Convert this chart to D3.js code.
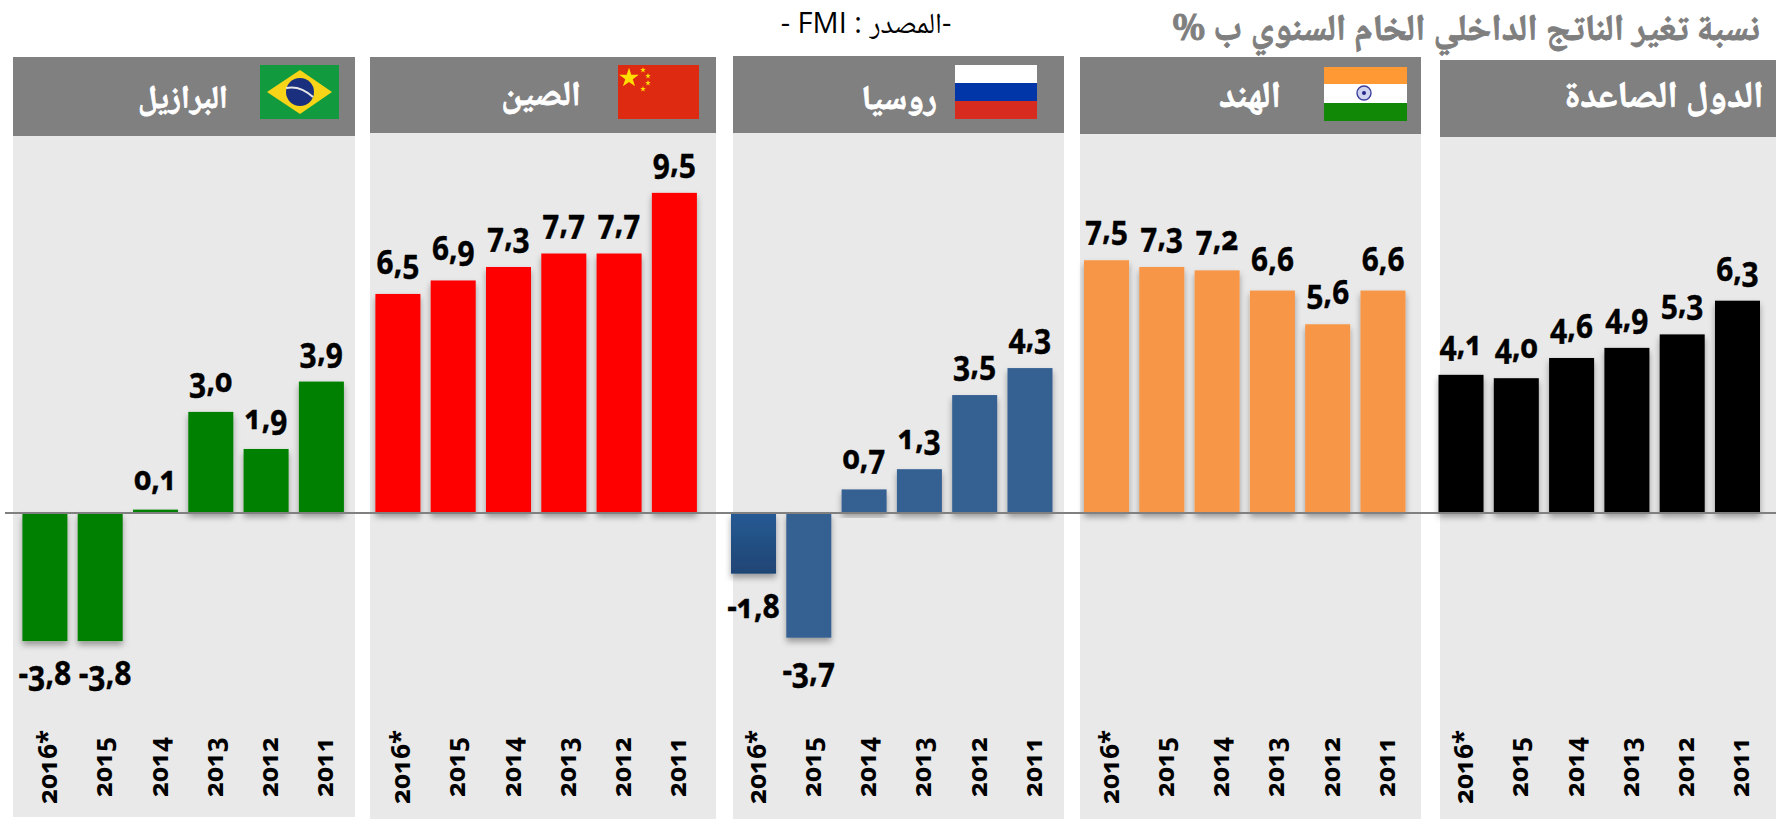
<!DOCTYPE html>
<html lang="ar">
<head>
<meta charset="utf-8">
<script src="https://cdn.jsdelivr.net/npm/d3@7"></script>
<style>
  body { margin: 0; background: #fff; }
  text.arabic { font-family: "Noto Naskh Arabic", Amiri, "DejaVu Sans", sans-serif; font-weight: bold; }
  text.number { font-family: "Open Sans", "Noto Sans", sans-serif; font-weight: bold; font-variant-numeric: oldstyle-nums; }
</style>
</head>
<body>
<script>
const years = ["2016*", "2015", "2014", "2013", "2012", "2011"];

const brazil_values = [-3.8, -3.8, 0.1, 3.0, 1.9, 3.9];
const china_values = [6.5, 6.9, 7.3, 7.7, 7.7, 9.5];
const russia_values = [-1.8, -3.7, 0.7, 1.3, 3.5, 4.3];
const india_values = [7.5, 7.3, 7.2, 6.6, 5.6, 6.6];
const emerging_values = [4.1, 4.0, 4.6, 4.9, 5.3, 6.3];

const title_text = "نسبة تغير الناتج الداخلي الخام السنوي ب %";
const source_text = "-المصدر : FMI -";

// panel boxes and header positions were measured on the reference
const panels = [
  { name: "البرازيل", values: brazil_values, color: "#008000", flag: draw_brazil, nudge: { "2015": 5 }, name_size: 32,
    left: 13, right: 355, head_top: 57, head_bottom: 136, bottom: 817, bars_left: 22.4, name_x: 183, name_y: 98, flag_x: 260, flag_y: 65 },
  { name: "الصين", values: china_values, color: "#ff0000", flag: draw_china, name_size: 34.5,
    left: 370, right: 716, head_top: 57, head_bottom: 133, bottom: 819, bars_left: 375.4, name_x: 541, name_y: 95, flag_x: 618, flag_y: 65 },
  { name: "روسيا", values: russia_values, color: "#366092", flag: draw_russia, name_size: 34,
    left: 733, right: 1064, head_top: 56, head_bottom: 133, bottom: 819, bars_left: 731, name_x: 899, name_y: 99, flag_x: 955, flag_y: 65 },
  { name: "الهند", values: india_values, color: "#f79646", flag: draw_india, name_size: 37,
    left: 1080, right: 1421, head_top: 57, head_bottom: 134, bottom: 819, bars_left: 1084, name_x: 1250, name_y: 97, flag_x: 1324, flag_y: 67 },
  { name: "الدول الصاعدة", values: emerging_values, color: "#000000", flag: null, name_size: 37,
    left: 1440, right: 1776, head_top: 60, head_bottom: 137, bottom: 819, bars_left: 1438.5, name_x: 1664, name_y: 97 }
];

const width = 1776;
const height = 819;
const baseline_y = 513;
const px_per_unit = 33.7;
const bars_width = 321.5;

const y = d3.scaleLinear()
  .domain([-4, 10])
  .range([baseline_y + 4 * px_per_unit, baseline_y - 10 * px_per_unit]);

const svg = d3.select("body").append("svg")
  .attr("width", width)
  .attr("height", height)
  .style("display", "block");

const defs = svg.append("defs");
defs.append("filter")
  .attr("id", "bar_shadow")
  .attr("x", "-20%").attr("y", "-20%").attr("width", "140%").attr("height", "140%")
  .append("feDropShadow")
  .attr("dx", 0).attr("dy", 4).attr("stdDeviation", 3)
  .attr("flood-color", "#000").attr("flood-opacity", 0.35);

// the first russian bar has its own darker gradient
const russia_grad = defs.append("linearGradient")
  .attr("id", "russia_first").attr("x1", 0).attr("y1", 0).attr("x2", 0).attr("y2", 1);
russia_grad.append("stop").attr("offset", "0%").attr("stop-color", "#275a94");
russia_grad.append("stop").attr("offset", "100%").attr("stop-color", "#1f4574");

svg.append("text")
  .attr("class", "arabic")
  .attr("x", 1466).attr("y", 40)
  .attr("text-anchor", "middle")
  .attr("direction", "rtl")
  .attr("fill", "#7f7f7f")
  .attr("stroke", "#7f7f7f").attr("stroke-width", 0.9)
  .style("font-size", "36.5px")
  .text(title_text);

svg.append("text")
  .attr("class", "source")
  .attr("x", 866).attr("y", 33)
  .attr("text-anchor", "middle")
  .attr("direction", "rtl")
  .attr("fill", "#000")
  .style("font-family", "'Open Sans', 'Noto Naskh Arabic', sans-serif")
  .style("font-size", "29px")
  .text(source_text);

const panel_g = svg.selectAll("g.panel")
  .data(panels)
  .join("g")
  .attr("class", "panel");

panel_g.each(function (p) {
  const g = d3.select(this);

  const x = d3.scaleBand()
    .domain(years)
    .range([p.bars_left, p.bars_left + bars_width])
    .paddingInner(0.186)
    .paddingOuter(0);

  const rows = years.map((year, i) => ({ year: year, value: p.values[i], index: i }));

  g.append("rect")
    .attr("x", p.left).attr("y", p.head_top)
    .attr("width", p.right - p.left).attr("height", p.bottom - p.head_top)
    .attr("fill", "#e9e9e9");

  g.append("rect")
    .attr("x", p.left).attr("y", p.head_top)
    .attr("width", p.right - p.left).attr("height", p.head_bottom - p.head_top)
    .attr("fill", "#808080");

  g.append("text")
    .attr("class", "arabic")
    .attr("x", p.name_x).attr("y", p.name_y + 10)
    .attr("text-anchor", "middle")
    .attr("direction", "rtl")
    .attr("fill", "#fff")
    .attr("stroke", "#fff").attr("stroke-width", 0.8)
    .style("font-size", p.name_size + "px")
    .text(p.name);

  if (p.flag) {
    p.flag(g.append("g").attr("transform", `translate(${p.flag_x},${p.flag_y})`));
  }

  g.selectAll("rect.bar")
    .data(rows)
    .join("rect")
    .attr("class", "bar")
    .attr("x", (d) => x(d.year))
    .attr("y", (d) => y(Math.max(0, d.value)))
    .attr("width", x.bandwidth())
    .attr("height", (d) => Math.abs(y(d.value) - y(0)))
    .attr("fill", (d) => (p.values === russia_values && d.index === 0 ? "url(#russia_first)" : p.color))
    .attr("filter", "url(#bar_shadow)");

  g.selectAll("text.value")
    .data(rows)
    .join("text")
    .attr("class", "number value")
    .attr("transform", (d) => {
      const cx = x(d.year) + x.bandwidth() / 2 + ((d.value < 0 && p.nudge && p.nudge[d.year]) || 0);
      const cy = d.value < 0 ? y(d.value) + 44 : y(d.value) - 20;
      return `translate(${cx},${cy}) scale(0.88,1)`;
    })
    .attr("text-anchor", "middle")
    .attr("fill", "#000")
    .attr("stroke", "#000").attr("stroke-width", 0.4)
    .style("font-size", "34px")
    .text((d) => String(d.value.toFixed(1)).replace(".", ","));

  g.selectAll("text.year")
    .data(rows)
    .join("text")
    .attr("class", "number year")
    .attr("transform", (d) => `translate(${x(d.year) + x.bandwidth() / 2 + 12},767) rotate(-90)`)
    .attr("text-anchor", "middle")
    .attr("fill", "#000")
    .style("font-size", "26px")
    .text((d) => d.year);
});

svg.append("line")
  .attr("x1", 5).attr("x2", width)
  .attr("y1", y(0)).attr("y2", y(0))
  .attr("stroke", "#808080")
  .attr("stroke-width", 2);

function draw_brazil(g) {
  g.append("rect").attr("width", 79).attr("height", 54).attr("fill", "#129a3e");
  g.append("path").attr("d", "M40,5 L72,27 L40,49 L7,27 Z").attr("fill", "#f7d417");
  g.append("circle").attr("cx", 40).attr("cy", 27).attr("r", 14).attr("fill", "#1b2f7f");
  g.append("path").attr("d", "M26,23 Q40,20 53,32")
    .attr("fill", "none").attr("stroke", "#e6e6e6").attr("stroke-width", 2);
}

function draw_china(g) {
  g.append("rect").attr("width", 81).attr("height", 54).attr("fill", "#de2a10");
  const big_star = d3.symbol().type(d3.symbolStar).size(120);
  const small_star = d3.symbol().type(d3.symbolStar).size(10);
  g.append("path").attr("d", big_star()).attr("transform", "translate(11,13)").attr("fill", "#ffde00");
  [[25, 5], [30, 11], [30, 18], [25, 24]].forEach((c) => {
    g.append("path").attr("d", small_star()).attr("transform", `translate(${c[0]},${c[1]})`).attr("fill", "#ffde00");
  });
}

function draw_russia(g) {
  g.append("rect").attr("width", 82).attr("height", 18).attr("fill", "#ffffff");
  g.append("rect").attr("y", 18).attr("width", 82).attr("height", 18).attr("fill", "#0036a7");
  g.append("rect").attr("y", 36).attr("width", 82).attr("height", 18).attr("fill", "#d62b1e");
}

function draw_india(g) {
  g.append("rect").attr("width", 83).attr("height", 17).attr("fill", "#ff9933");
  g.append("rect").attr("y", 17).attr("width", 83).attr("height", 19).attr("fill", "#ffffff");
  g.append("rect").attr("y", 36).attr("width", 83).attr("height", 18).attr("fill", "#128807");
  g.append("circle").attr("cx", 40).attr("cy", 26).attr("r", 7)
    .attr("fill", "#cfd3ee").attr("stroke", "#3c3f9c").attr("stroke-width", 1.4);
  g.append("circle").attr("cx", 40).attr("cy", 26).attr("r", 2).attr("fill", "#23268a");
}
</script>
</body>
</html>
